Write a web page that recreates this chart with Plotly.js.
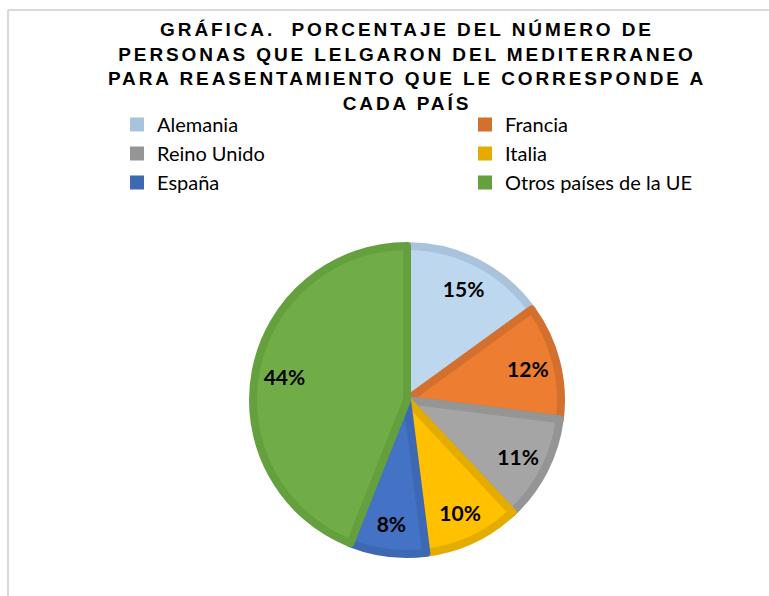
<!DOCTYPE html>
<html>
<head>
<meta charset="utf-8">
<script src="https://cdn.plot.ly/plotly-3.0.1.min.js"></script>
<style>
  html, body { margin: 0; padding: 0; background: #fff; }
  #chart { width: 769px; height: 596px; }
  .gtitle { letter-spacing: 2.9px; }
</style>
</head>
<body>
<div id="chart"></div>
<script>
const categories = ["Alemania", "Francia", "Reino Unido", "Italia", "España", "Otros países de la UE"];
const values = [15, 12, 11, 10, 8, 44];
const fillColors = ["#BDD7EE", "#ED7D31", "#A5A5A5", "#FFC000", "#4472C4", "#70AD47"];
const borderColors = ["#A9C3DD", "#D4702E", "#959595", "#E5AC00", "#3D68B2", "#65A03F"];
const titleLines = [
  "GRÁFICA.\u00a0 PORCENTAJE DEL NÚMERO DE",
  "PERSONAS QUE LELGARON DEL MEDITERRANEO",
  "PARA REASENTAMIENTO QUE LE CORRESPONDE A",
  "CADA PAÍS"
];

const W = 769, H = 596;
const CX = 407, CY = 400;
function dom(r) {
  return { x: [(CX - r) / W, (CX + r) / W], y: [(H - CY - r) / H, (H - CY + r) / H] };
}

// underlying pie: supplies the legend swatches (border colour), hidden below the main pie
const legendPie = {
  type: "pie",
  labels: categories,
  values: values,
  sort: false,
  direction: "clockwise",
  rotation: 0,
  marker: { colors: borderColors, line: { color: borderColors, width: 2 } },
  textinfo: "none",
  hoverinfo: "skip",
  showlegend: true,
  domain: dom(156)
};

// main visible pie with thick darker slice borders
const mainPie = {
  type: "pie",
  labels: categories,
  values: values,
  sort: false,
  direction: "clockwise",
  rotation: 0,
  marker: { colors: fillColors, line: { color: borderColors, width: 8 } },
  textinfo: "none",
  hoverinfo: "label+percent",
  showlegend: false,
  domain: dom(154)
};

// transparent ring that only carries the percentage labels (placed in the outer part of each slice)
const labelPie = {
  type: "pie",
  labels: categories,
  values: values,
  sort: false,
  direction: "clockwise",
  rotation: 0,
  hole: 0.62,
  marker: { colors: categories.map(() => "rgba(0,0,0,0)"), line: { width: 0 } },
  textinfo: "percent",
  textposition: "inside",
  insidetextorientation: "horizontal",
  insidetextfont: { family: "Lato, sans-serif", size: 21, color: "#000000", weight: "bold" },
  hoverinfo: "skip",
  showlegend: false,
  domain: dom(154)
};

const layout = {
  width: W,
  height: H,
  margin: { l: 0, r: 0, t: 0, b: 0, autoexpand: false },
  paper_bgcolor: "#ffffff",
  plot_bgcolor: "#ffffff",
  title: {
    text: titleLines.join("<br>"),
    font: { family: "Liberation Sans, Arial, sans-serif", size: 19, color: "#000000", weight: "bold" },
    x: 407 / W,
    xanchor: "center",
    xref: "container",
    y: 1 - 36 / H,
    yanchor: "top",
    yref: "container"
  },
  showlegend: true,
  legend: {
    orientation: "h",
    x: 117 / W,
    xanchor: "left",
    y: 1 - 105 / H,
    yanchor: "top",
    entrywidth: 303,
    entrywidthmode: "pixels",
    font: { family: "Lato, sans-serif", size: 20, color: "#000000" },
    bgcolor: "rgba(0,0,0,0)",
    traceorder: "normal"
  },
  shapes: [
    { type: "line", xref: "paper", yref: "paper", x0: 8 / W, x1: 1, y0: 1 - 10 / H, y1: 1 - 10 / H, line: { color: "#D9D9D9", width: 2 } },
    { type: "line", xref: "paper", yref: "paper", x0: 8 / W, x1: 8 / W, y0: 0, y1: 1 - 10 / H, line: { color: "#D9D9D9", width: 2 } }
  ]
};

Plotly.newPlot("chart", [legendPie, mainPie, labelPie], layout, { displayModeBar: false, staticPlot: true });
</script>
</body>
</html>
